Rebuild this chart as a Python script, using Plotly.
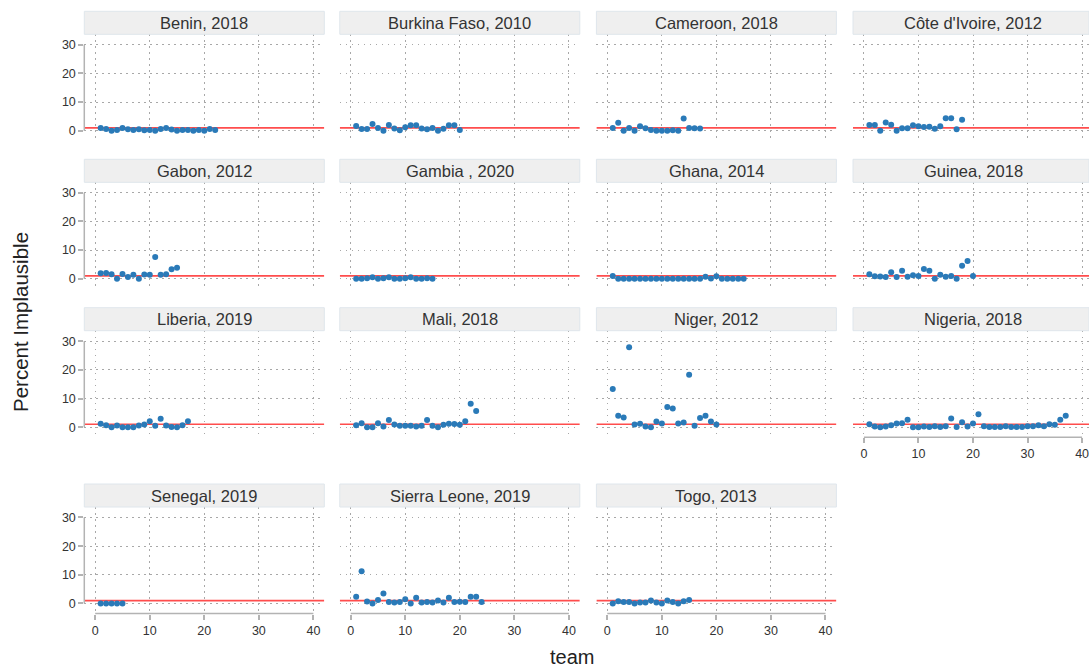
import plotly.graph_objects as go

W, H = 1089, 672

panel_titles = ["Benin, 2018", "Burkina Faso, 2010", "Cameroon, 2018", "Côte d'Ivoire, 2012",
                "Gabon, 2012", "Gambia , 2020", "Ghana, 2014", "Guinea, 2018",
                "Liberia, 2019", "Mali, 2018", "Niger, 2012", "Nigeria, 2018",
                "Senegal, 2019", "Sierra Leone, 2019", "Togo, 2013"]

benin = [1.0, 0.6, 0.0, 0.3, 1.0, 0.5, 0.3, 0.5, 0.2, 0.3, 0.0, 0.6, 1.0, 0.4, 0.0, 0.3, 0.3, 0.0, 0.3, 0.0, 0.6, 0.3]
burkina_faso = [1.7, 0.6, 0.6, 2.4, 1.0, 0.0, 2.0, 0.8, 0.2, 1.2, 1.9, 1.9, 0.8, 0.5, 1.0, 0.0, 0.7, 1.9, 1.9, 0.3]
cameroon = [1.0, 2.8, 0.0, 1.0, 0.0, 1.6, 0.9, 0.3, 0.0, 0.0, 0.0, 0.2, 0.0, 4.3, 1.0, 0.9, 0.8]
cote_divoire = [2.0, 2.0, 0.0, 2.9, 2.1, 0.0, 0.9, 0.9, 1.9, 1.6, 1.3, 1.4, 0.7, 1.6, 4.4, 4.4, 0.5, 3.8]
gabon = [1.9, 2.0, 1.6, 0.0, 1.7, 0.6, 1.4, 0.0, 1.5, 1.4, 7.6, 1.4, 1.6, 3.3, 3.8]
gambia = [0.0, 0.0, 0.2, 0.5, 0.0, 0.2, 0.5, 0.0, 0.0, 0.2, 0.5, 0.0, 0.0, 0.2, 0.0]
ghana = [1.0, 0.0, 0.0, 0.0, 0.0, 0.0, 0.0, 0.0, 0.0, 0.0, 0.0, 0.0, 0.0, 0.0, 0.0, 0.0, 0.0,
         0.7, 0.1, 0.9, 0.0, 0.0, 0.0, 0.0, 0.0]
guinea = [1.6, 0.9, 0.8, 0.6, 2.3, 0.6, 2.8, 0.7, 1.2, 1.0, 3.4, 2.8, 0.0, 1.4, 0.7, 1.0, 0.0, 4.5, 6.2, 1.0]
liberia = [1.2, 0.7, 0.0, 0.6, 0.0, 0.0, 0.0, 0.6, 0.9, 2.1, 0.5, 2.9, 0.6, 0.1, 0.0, 0.7, 2.1]
mali = [0.7, 1.4, 0.0, 0.0, 1.4, 0.2, 2.5, 0.9, 0.5, 0.5, 0.5, 0.2, 0.5, 2.5, 0.5, 0.0, 0.8, 1.2,
        1.1, 0.8, 2.1, 8.2, 5.6]
niger = [13.3, 4.0, 3.4, 27.9, 0.9, 1.2, 0.2, 0.0, 2.0, 1.3, 7.0, 6.5, 1.3, 1.6, 18.3, 0.5, 3.2,
         4.0, 2.0, 0.9]
nigeria = [1.0, 0.2, 0.0, 0.2, 0.7, 1.3, 1.4, 2.6, 0.0, 0.0, 0.2, 0.1, 0.3, 0.1, 0.3, 3.0, 0.1,
           1.7, 0.2, 1.3, 4.5, 0.3, 0.1, 0.1, 0.1, 0.3, 0.1, 0.1, 0.1, 0.3, 0.3, 0.7, 0.3, 1.0,
           0.8, 2.6, 4.0]
senegal = [0.0, 0.0, 0.0, 0.0, 0.0]
sierra_leone = [2.3, 11.2, 0.7, 0.0, 1.2, 3.5, 0.5, 0.3, 0.5, 1.5, 0.0, 2.0, 0.3, 0.5, 0.3, 1.0,
                0.3, 2.0, 0.5, 0.6, 0.5, 2.3, 2.3, 0.5]
togo = [0.0, 0.8, 0.5, 0.5, 0.0, 0.3, 0.3, 1.0, 0.3, 0.0, 1.0, 0.5, 0.0, 0.8, 1.2]

panel_values = [benin, burkina_faso, cameroon, cote_divoire, gabon, gambia, ghana, guinea,
                liberia, mali, niger, nigeria, senegal, sierra_leone, togo]

x_ticks = [0, 10, 20, 30, 40]
y_ticks = [0, 10, 20, 30]
threshold = 1

# layout geometry (pixels)
col_left = [84.3, 339.8, 596.4, 853.0]
col_w = 240.0
row_top = [34.3, 182.3, 330.7, 507.0]
row_h = 106.5
strip_h = 23.0
X_RANGE = [-2, 42]
Y_RANGE = [-3.5, 33.65]

FONT = "Liberation Sans, Arial, Helvetica, sans-serif"
TXT = "#333333"
GRID = "#a8a8a8"
GRID_DASH = "1.5px,4.5px"
AXC = "#b3b3b3"

fig = go.Figure()
shapes = []
annotations = []
layout_axes = {}

n = len(panel_values)
bottom_in_col = {}
for i in range(n):
    bottom_in_col[i % 4] = i

for i, vals in enumerate(panel_values):
    r, c = divmod(i, 4)
    k = "" if i == 0 else str(i + 1)
    left = col_left[c]
    right = min(left + col_w, W)
    x_hi = X_RANGE[0] + (X_RANGE[1] - X_RANGE[0]) * (right - left) / col_w
    top = row_top[r]
    bot = top + row_h
    is_bottom = bottom_in_col[c] == i
    is_left = c == 0

    layout_axes["xaxis" + k] = dict(
        domain=[left / W, right / W], range=[X_RANGE[0], x_hi], anchor="y" + k,
        tickvals=x_ticks, showgrid=True, gridcolor=GRID, griddash=GRID_DASH, gridwidth=1,
        zeroline=False, showline=False, ticklabeloverflow="allow",
        ticks="outside" if is_bottom else "", ticklen=5, tickwidth=1.5, tickcolor=AXC,
        showticklabels=is_bottom, tickfont=dict(family=FONT, size=12.5, color=TXT),
    )
    layout_axes["yaxis" + k] = dict(
        domain=[1 - bot / H, 1 - top / H], range=Y_RANGE, anchor="x" + k,
        tickvals=y_ticks, showgrid=True, gridcolor=GRID, griddash=GRID_DASH, gridwidth=1,
        zeroline=False, showline=False,
        ticks="outside" if is_left else "", ticklen=5, tickwidth=1.5, tickcolor=AXC,
        showticklabels=is_left, tickfont=dict(family=FONT, size=12.5, color=TXT),
    )

    teams = list(range(1, len(vals) + 1))
    fig.add_trace(go.Scatter(
        x=[X_RANGE[0], X_RANGE[1]], y=[threshold, threshold], mode="lines",
        line=dict(color="#ff4d4d", width=1.6), xaxis="x" + k, yaxis="y" + k,
        hoverinfo="skip", showlegend=False))
    fig.add_trace(go.Scatter(
        x=teams, y=vals, mode="markers",
        marker=dict(color="#2a7ab8", size=6, line=dict(width=0)),
        xaxis="x" + k, yaxis="y" + k, showlegend=False))

    # strip
    shapes.append(dict(type="rect", xref="paper", yref="paper",
                       x0=left / W, x1=right / W,
                       y0=1 - top / H, y1=1 - (top - strip_h) / H,
                       fillcolor="#efefef", line=dict(color="#dfe6ec", width=1)))
    annotations.append(dict(text=panel_titles[i], xref="paper", yref="paper",
                            x=(left + col_w / 2) / W, y=1 - (top - strip_h / 2) / H,
                            xanchor="center", yanchor="middle", showarrow=False,
                            font=dict(family=FONT, size=16.5, color=TXT)))
    # axis lines
    if is_left:
        shapes.append(dict(type="line", xref="paper", yref="y" + k,
                           x0=left / W, x1=left / W, y0=y_ticks[0], y1=y_ticks[-1],
                           line=dict(color=AXC, width=1.5)))
    if is_bottom:
        shapes.append(dict(type="line", xref="x" + k, yref="paper",
                           x0=x_ticks[0], x1=x_ticks[-1], y0=1 - bot / H, y1=1 - bot / H,
                           line=dict(color=AXC, width=1.5)))

annotations.append(dict(text="Percent Implausible", xref="paper", yref="paper",
                        x=20 / W, y=1 - 322 / H, textangle=-90, showarrow=False,
                        xanchor="center", yanchor="middle",
                        font=dict(family=FONT, size=20.5, color="#222222")))
annotations.append(dict(text="team", xref="paper", yref="paper",
                        x=572 / W, y=1 - 670 / H, showarrow=False,
                        xanchor="center", yanchor="bottom",
                        font=dict(family=FONT, size=20, color="#222222")))

fig.update_layout(
    width=W, height=H, margin=dict(l=0, r=0, t=0, b=0),
    paper_bgcolor="white", plot_bgcolor="white",
    shapes=shapes, annotations=annotations, showlegend=False,
    **layout_axes)

fig.write_html("out.html")
